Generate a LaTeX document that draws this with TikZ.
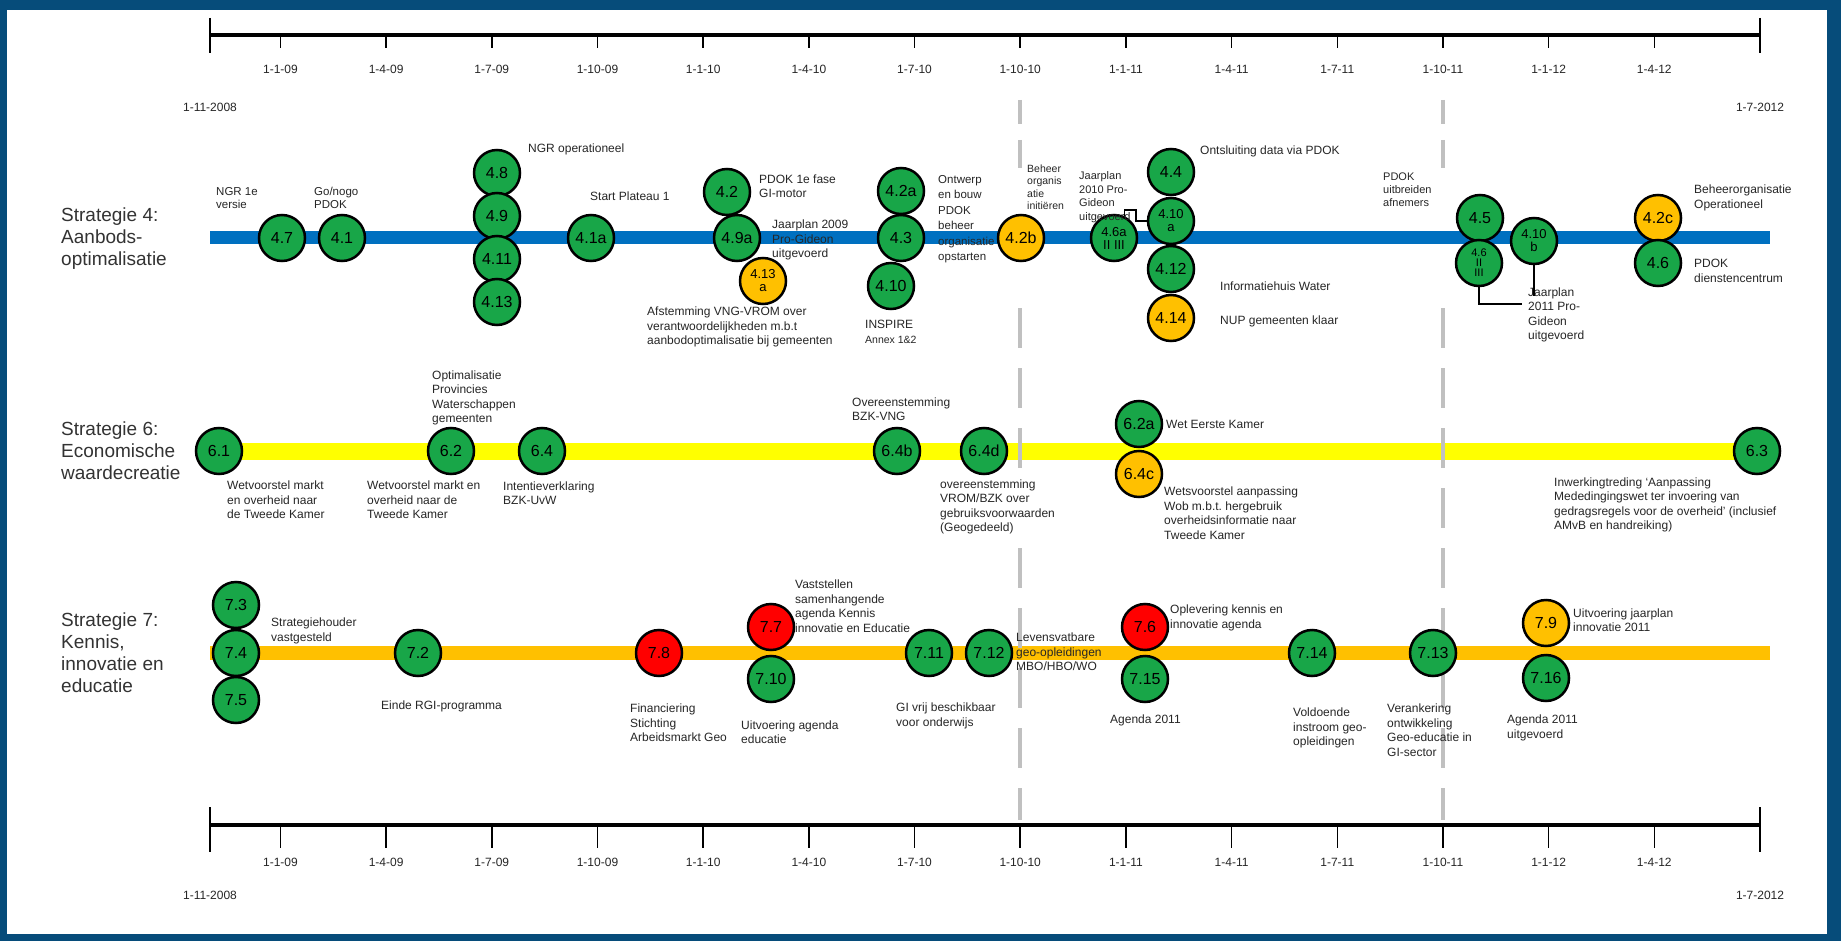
\documentclass[tikz,border=0pt]{standalone}
\usepackage{fontspec}
\setmainfont{Liberation Sans}
\definecolor{frameblue}{RGB}{6,76,122}
\definecolor{bandblue}{RGB}{0,112,192}
\definecolor{bandyellow}{RGB}{255,255,0}
\definecolor{bandorange}{RGB}{255,192,0}
\definecolor{msgreen}{RGB}{24,166,72}
\definecolor{msorange}{RGB}{255,192,0}
\definecolor{msred}{RGB}{255,0,0}
\definecolor{dashgray}{RGB}{192,192,192}
\begin{document}
\begin{tikzpicture}[x=1pt,y=-1pt,
  mile/.style={circle,draw=black,line width=2.5pt,minimum size=46pt,inner sep=0pt,align=center,font=\fontsize{16}{16}\selectfont},
  gm/.style={mile,fill=msgreen},
  om/.style={mile,fill=msorange},
  rm/.style={mile,fill=msred},
  two/.style={font=\fontsize{13}{13}\selectfont},
  three/.style={font=\fontsize{11}{10}\selectfont},
  lbl/.style={anchor=west,align=left,inner sep=0pt,text=black!85,font=\fontsize{12}{14.5}\selectfont},
  strat/.style={anchor=west,align=left,inner sep=0pt,text=black!80,font=\fontsize{19}{22}\selectfont},
  timeaxis/.style={line width=3.5pt},
  tickline/.style={line width=1.5pt},
  tlbl/.style={font=\fontsize{12}{12}\selectfont,inner sep=0pt,text=black!85},
  bandline/.style={line width=14pt},
  vdash/.style={line width=4.5pt,dashgray},
  conn/.style={line width=1.5pt}
]
\fill[frameblue] (0,0) rectangle (1841,941);
\fill[white] (7,10) rectangle (1827,934);
\useasboundingbox (0,0) rectangle (1841,941);

% ---------- time axes ----------
\coordinate (ta0) at (210,35); \coordinate (ta1) at (1760,35);
\coordinate (ba0) at (210,825); \coordinate (ba1) at (1760,825);
\draw[timeaxis] (ta0) -- (ta1);
\draw[timeaxis] (ba0) -- (ba1);
\draw[tickline] (210,18) -- (210,53);
\draw[tickline] (1760,18) -- (1760,53);
\draw[tickline] (210,807) -- (210,852);
\draw[tickline] (1760,807) -- (1760,852);
\foreach \m/\t in {2/1-1-09,5/1-4-09,8/1-7-09,11/1-10-09,14/1-1-10,17/1-4-10,20/1-7-10,23/1-10-10,26/1-1-11,29/1-4-11,32/1-7-11,35/1-10-11,38/1-1-12,41/1-4-12}{
  \draw[tickline] ({210+35.227*\m},35) -- ++(0,13);
  \node[tlbl] (tt\m) at ({210+35.227*\m},69) {\t};
  \draw[tickline] ({210+35.227*\m},825) -- ++(0,23);
  \node[tlbl] (bt\m) at ({210+35.227*\m},862) {\t};
}
\node[tlbl] (tstart) at (210,107) {1-11-2008};
\node[tlbl] (tend) at (1760,107) {1-7-2012};
\node[tlbl] (bstart) at (210,895) {1-11-2008};
\node[tlbl] (bend) at (1760,895) {1-7-2012};

% ---------- bands ----------
\coordinate (b4a) at (210,238); \coordinate (b4b) at (1770,238);
\coordinate (b6a) at (210,451); \coordinate (b6b) at (1760,451);
\coordinate (b7a) at (210,653); \coordinate (b7b) at (1770,653);
\draw[bandline,bandblue,line width=13pt] (b4a) -- (b4b);
\draw[bandline,bandyellow,line width=17pt] (b6a) -- (b6b);
\draw[bandline,bandorange,line width=14pt] (b7a) -- (b7b);

% ---------- dashed quarter lines ----------
\foreach \a/\b in {100/124,140/168,308/348,368/408,428/468,548/588,608/648,668/708,728/768,788/820}{
  \draw[vdash] (1020,\a) -- (1020,\b);
}
\foreach \a/\b in {100/124,140/168,308/348,368/408,428/468,488/528,548/588,608/648,668/708,728/768,788/820}{
  \draw[vdash] (1443,\a) -- (1443,\b);
}

% ---------- strategy titles ----------
\node[strat] (s4) at (61,239) {Strategie 4:\\Aanbods-\\optimalisatie};
\node[strat] (s6) at (61,451) {Strategie 6:\\Economische\\waardecreatie};
\node[strat] (s7) at (61,653) {Strategie 7:\\Kennis,\\innovatie en\\educatie};

% ---------- strategy 4 ----------
\node[gm] (n47) at (282,238) {4.7};
\node[gm] (n41) at (342,238) {4.1};
\node[gm] (n48) at (497,173) {4.8};
\node[gm] (n49) at (497,216) {4.9};
\node[gm] (n411) at (497,259) {4.11};
\node[gm] (n413) at (497,302) {4.13};
\node[gm] (n41a) at (591,238) {4.1a};
\node[gm] (n42) at (727,192) {4.2};
\node[gm] (n49a) at (737,238) {4.9a};
\node[om,two] (n413a) at (763,281) {4.13\\a};
\node[gm] (n42a) at (901,191) {4.2a};
\node[gm] (n43) at (901,238) {4.3};
\node[gm] (n410) at (891,286) {4.10};
\node[om] (n42b) at (1021,238) {4.2b};
\node[gm,two] (n46a) at (1114,238) {4.6a\\II III};
\node[gm] (n44) at (1171,172) {4.4};
\node[gm,two] (n410a) at (1171,221) {4.10\\a};
\node[gm] (n412) at (1171,269) {4.12};
\node[om] (n414) at (1171,318) {4.14};
\node[gm] (n45) at (1480,218) {4.5};
\node[gm,three] (n46) at (1479,263) {4.6\\II\\III};
\node[gm,two] (n410b) at (1534,241) {4.10\\b};
\node[om] (n42c) at (1658,218) {4.2c};
\node[gm] (n46b) at (1658,263) {4.6};

\node[lbl,font=\fontsize{11.5}{12.5}\selectfont] (l47) at (216,198) {NGR 1e\\versie};
\node[lbl,font=\fontsize{11.5}{12.5}\selectfont] (l41) at (314,198) {Go/nogo\\PDOK};
\node[lbl] (l48) at (528,149) {NGR operationeel};
\node[lbl] (l41a) at (590,196) {Start Plateau 1};
\node[lbl] (l42) at (759,186) {PDOK 1e fase\\GI-motor};
\node[lbl] (l49a) at (772,240) {Jaarplan 2009\\Pro-Gideon\\uitgevoerd};
\node[lbl] (l413a) at (647,327) {Afstemming VNG-VROM over\\verantwoordelijkheden m.b.t\\aanbodoptimalisatie bij gemeenten};
\node[lbl] (l410) at (865,332) {INSPIRE\\{\fontsize{10.5}{12}\selectfont Annex 1\&2}};
\node[lbl,font=\fontsize{11.5}{15.5}\selectfont] (l43) at (938,219) {Ontwerp\\en bouw\\PDOK\\beheer\\organisatie\\opstarten};
\node[lbl,font=\fontsize{10.5}{12.5}\selectfont] (l42b) at (1027,187) {Beheer\\organis\\atie\\initiëren};
\node[lbl,font=\fontsize{11}{13.5}\selectfont] (l410a) at (1079,197) {Jaarplan\\2010 Pro-\\Gideon\\uitgevoerd};
\node[lbl] (l44) at (1200,151) {Ontsluiting data via PDOK};
\node[lbl] (l412) at (1220,286) {Informatiehuis Water};
\node[lbl] (l414) at (1220,321) {NUP gemeenten klaar};
\node[lbl,font=\fontsize{11}{13}\selectfont] (l45) at (1383,190) {PDOK\\uitbreiden\\afnemers};
\node[lbl,font=\fontsize{12}{14.5}\selectfont] (l410b) at (1528,315) {Jaarplan\\2011 Pro-\\Gideon\\uitgevoerd};
\node[lbl] (l42c) at (1694,198) {Beheerorganisatie\\Operationeel};
\node[lbl] (l46b) at (1694,271) {PDOK\\dienstencentrum};

\coordinate (c1) at (1136,210);
\draw[conn] (n46a.65) |- (c1) |- (n410a.west);
\coordinate (c2) at (1534,296);
\draw[conn] (n410b.south) -- (c2);
\coordinate (c3) at (1522,304);
\draw[conn] (n46.south) |- (c3);

% ---------- strategy 6 ----------
\node[gm] (n61) at (219,451) {6.1};
\node[gm] (n62) at (451,451) {6.2};
\node[gm] (n64) at (542,451) {6.4};
\node[gm] (n64b) at (897,451) {6.4b};
\node[gm] (n64d) at (984,451) {6.4d};
\node[gm] (n62a) at (1139,424) {6.2a};
\node[om] (n64c) at (1139,474) {6.4c};
\node[gm] (n63) at (1757,451) {6.3};

\node[lbl] (l61) at (227,500) {Wetvoorstel markt\\en overheid naar\\de Tweede Kamer};
\node[lbl] (l62t) at (432,398) {Optimalisatie\\Provincies\\Waterschappen\\gemeenten};
\node[lbl] (l62) at (367,500) {Wetvoorstel markt en\\overheid naar de\\Tweede Kamer};
\node[lbl] (l64) at (503,493) {Intentieverklaring\\BZK-UvW};
\node[lbl] (l64b) at (852,409) {Overeenstemming\\BZK-VNG};
\node[lbl] (l64d) at (940,507) {overeenstemming\\VROM/BZK over\\gebruiksvoorwaarden\\(Geogedeeld)};
\node[lbl] (l62a) at (1166,424) {Wet Eerste Kamer};
\node[lbl] (l64c) at (1164,513) {Wetsvoorstel aanpassing\\Wob m.b.t.\ hergebruik\\overheidsinformatie naar\\Tweede Kamer};
\node[lbl] (l63) at (1554,505) {Inwerkingtreding ‘Aanpassing\\Mededingingswet ter invoering van\\gedragsregels voor de overheid’ (inclusief\\AMvB en handreiking)};

% ---------- strategy 7 ----------
\node[gm] (n73) at (236,605) {7.3};
\node[gm] (n74) at (236,653) {7.4};
\node[gm] (n75) at (236,700) {7.5};
\node[gm] (n72) at (418,653) {7.2};
\node[rm] (n78) at (659,653) {7.8};
\node[rm] (n77) at (771,627) {7.7};
\node[gm] (n710) at (771,679) {7.10};
\node[gm] (n711) at (929,653) {7.11};
\node[gm] (n712) at (989,653) {7.12};
\node[rm] (n76) at (1145,627) {7.6};
\node[gm] (n715) at (1145,679) {7.15};
\node[gm] (n714) at (1312,653) {7.14};
\node[gm] (n713) at (1433,653) {7.13};
\node[om] (n79) at (1546,623) {7.9};
\node[gm] (n716) at (1546,678) {7.16};

\node[lbl] (l73) at (271,631) {Strategiehouder\\vastgesteld};
\node[lbl] (l72) at (381,706) {Einde RGI-programma};
\node[lbl] (l78) at (630,723) {Financiering\\Stichting\\Arbeidsmarkt Geo};
\node[lbl] (l77) at (795,606) {Vaststellen\\samenhangende\\agenda Kennis\\innovatie en Educatie};
\node[lbl] (l710) at (741,732) {Uitvoering agenda\\educatie};
\node[lbl] (l711) at (896,716) {GI vrij beschikbaar\\voor onderwijs};
\node[lbl] (l712) at (1016,652) {Levensvatbare\\geo-opleidingen\\MBO/HBO/WO};
\node[lbl] (l76) at (1170,618) {Oplevering kennis en\\innovatie agenda};
\node[lbl] (l715) at (1110,720) {Agenda 2011};
\node[lbl] (l714) at (1293,728) {Voldoende\\instroom geo-\\opleidingen};
\node[lbl] (l713) at (1387,730) {Verankering\\ontwikkeling\\Geo-educatie in\\GI-sector};
\node[lbl] (l79) at (1573,620) {Uitvoering jaarplan\\innovatie 2011};
\node[lbl] (l716) at (1507,728) {Agenda 2011\\uitgevoerd};
\end{tikzpicture}
\end{document}
